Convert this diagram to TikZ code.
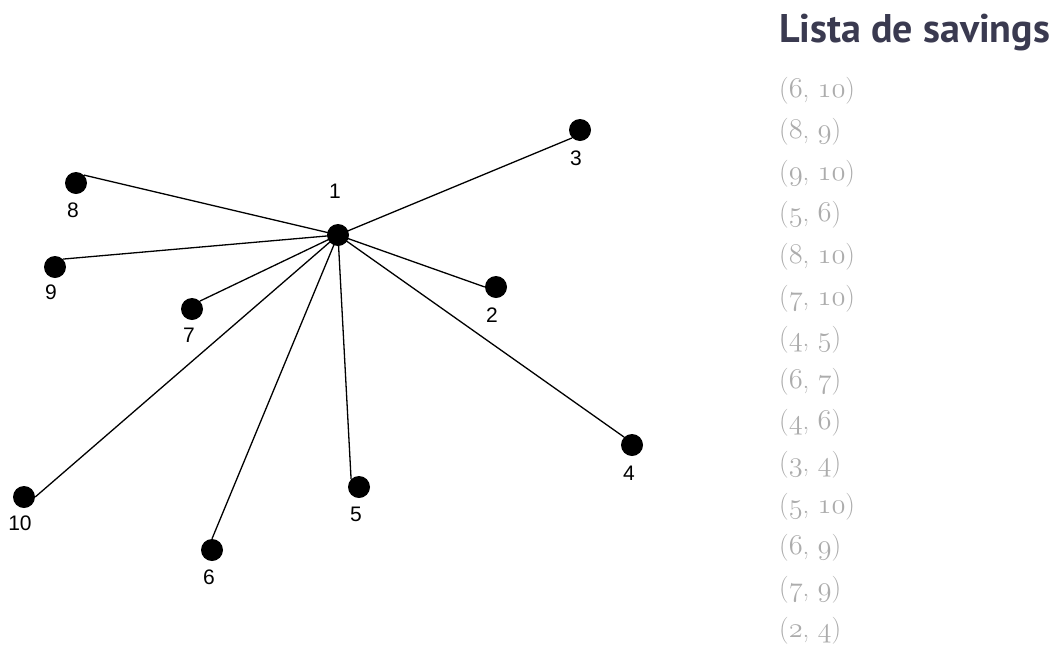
\RequirePackage{fix-cm}
\documentclass[tikz,border=0pt]{standalone}
\usepackage{fontspec}
\newfontfamily\labfont{Liberation Sans}
\newfontfamily\headfont{PT Sans}
\definecolor{titlecol}{RGB}{58,58,80}
\definecolor{itemcol}{RGB}{172,172,172}
\newcommand\osd[1]{{\fontsize{28.5}{28.5}\usefont{OML}{cmm}{m}{it}#1}}
\newcommand\pair[2]{(\osd{#1},\hspace{0.3em}\osd{#2})}
\begin{document}
\begin{tikzpicture}[x=1pt,y=-1pt,
  dot/.style={circle,fill=black,minimum size=22pt,inner sep=0pt},
  lbl/.style={font=\labfont\fontsize{21}{21}\selectfont,inner sep=0pt},
  edge/.style={line width=1.3pt,black},
  item/.style={anchor=base west,inner sep=0pt,text=itemcol,font=\fontsize{27}{27}\selectfont},
  title/.style={anchor=base west,inner sep=0pt,text=titlecol,font=\headfont\bfseries\fontsize{40}{40}\selectfont}]
\useasboundingbox (0,0) rectangle (1058,646);
% nodes
\node[dot] (n1) at (338,235) {};
\node[dot] (n2) at (496,287) {};
\node[dot] (n3) at (580,130) {};
\node[dot] (n4) at (632,445) {};
\node[dot] (n5) at (359,487) {};
\node[dot] (n6) at (212,550) {};
\node[dot] (n7) at (192,309) {};
\node[dot] (n8) at (76,183) {};
\node[dot] (n9) at (55,267) {};
\node[dot] (n10) at (24,497) {};
% edges
\draw[edge] (n1.center) -- (n2.west);
\draw[edge] (n1.center) -- (n3.south west);
\draw[edge] (n1.center) -- (n4.north west);
\draw[edge] (n1.center) -- (n5.north west);
\draw[edge] (n1.center) -- (n6.north);
\draw[edge] (n1.center) -- (n7.north east);
\draw[edge] (n1.center) -- (n8.north east);
\draw[edge] (n1.center) -- (n9.north east);
\draw[edge] (n1.center) -- (n10.east);
% labels
\node[lbl] (l1) at (335,191) {1};
\node[lbl] (l2) at (492,315) {2};
\node[lbl] (l3) at (576,158) {3};
\node[lbl] (l4) at (629,473) {4};
\node[lbl] (l5) at (356,514) {5};
\node[lbl] (l6) at (209,577) {6};
\node[lbl] (l7) at (189,335) {7};
\node[lbl] (l8) at (73,210) {8};
\node[lbl] (l9) at (51,292) {9};
\node[lbl] (l10) at (20,523) {10};
% title and list
\node[title] (t) at (779,42) {Lista de savings};
\foreach \a/\b [count=\i] in {6/10,8/9,9/10,5/6,8/10,7/10,4/5,6/7,4/6,3/4,5/10,6/9,7/9,2/4}
  \node[item] (s\i) at (779,{97+(\i-1)*41.6}) {\pair{\a}{\b}};
\end{tikzpicture}
\end{document}
